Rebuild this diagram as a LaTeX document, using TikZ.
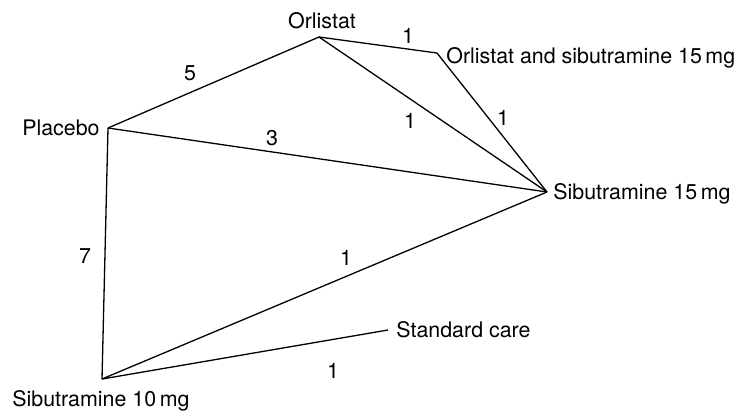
\documentclass[tikz,border=0pt]{standalone}
\usepackage{fontspec}
\setmainfont{TeX Gyre Heros}
\begin{document}
\begin{tikzpicture}[x=0.5pt,y=-0.5pt,
  edge/.style={line width=0.65pt, line join=round},
  lbl/.style={inner sep=0pt, font=\fontsize{10.7}{12.8}\selectfont},
  num/.style={lbl, anchor=base}]
\useasboundingbox (0,0) rectangle (742,414);
% vertices
\coordinate (O)   at (319,37);
\coordinate (OS)  at (437,53);
\coordinate (P)   at (108,128);
\coordinate (S15) at (547,192);
\coordinate (S10) at (102,379);
\coordinate (SC)  at (388,330);
% vertex labels
\node[lbl, anchor=base] (tO) at (322,28) {Orlistat};
\node[lbl, anchor=base west] (tOS) at (446,63) {Orlistat and sibutramine 15\,mg};
\node[lbl, anchor=base east] (tP) at (100,135) {Placebo};
\node[lbl, anchor=base west] (tS15) at (553,199) {Sibutramine 15\,mg};
\node[lbl, anchor=base west] (tSC) at (396,337) {Standard care};
\node[lbl, anchor=base west] (tS10) at (12,406) {Sibutramine 10\,mg};
% edges
\draw[edge] (O) -- (OS);
\draw[edge] (O) -- (P);
\draw[edge] (O) -- (S15);
\draw[edge] (OS) -- (S15);
\draw[edge] (P) -- (S15);
\draw[edge] (P) -- (S10);
\draw[edge] (S10) -- (S15);
\draw[edge] (S10) -- (SC);
% edge labels
\node[num] (n1) at (190,80) {5};
\node[num] (n2) at (408,43) {1};
\node[num] (n3) at (410,128) {1};
\node[num] (n4) at (503,125) {1};
\node[num] (n5) at (272,145) {3};
\node[num] (n6) at (85,263) {7};
\node[num] (n7) at (346,265) {1};
\node[num] (n8) at (333,378) {1};
\end{tikzpicture}
\end{document}
